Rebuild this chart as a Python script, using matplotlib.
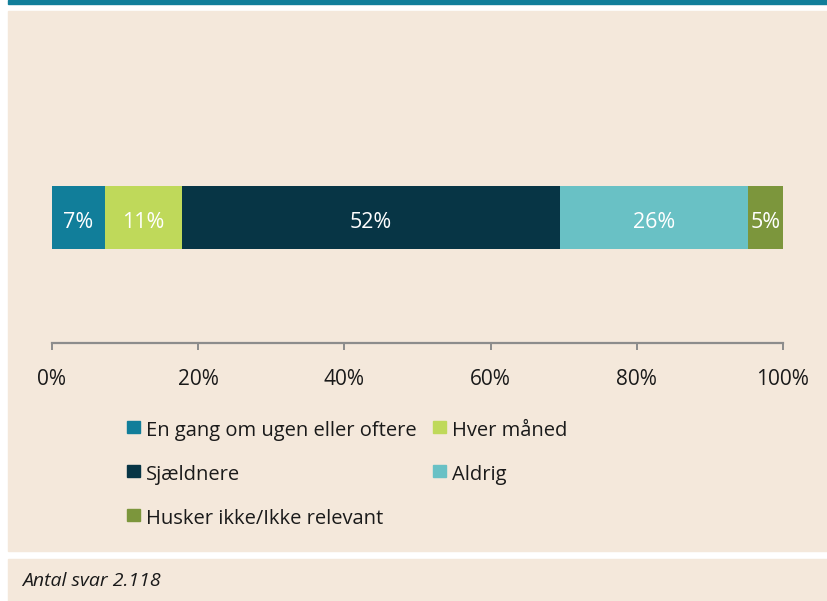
import matplotlib.pyplot as plt
from matplotlib.patches import Rectangle

# Survey answers (share of respondents, %)
categories = ['En gang om ugen eller oftere', 'Hver måned', 'Sjældnere',
              'Aldrig', 'Husker ikke/Ikke relevant']
values = [7.2, 10.6, 51.7, 25.7, 4.8]
colors = ['#117e9a', '#bfd95a', '#073545', '#69c1c5', '#7c963c']
ticks = [0, 20, 40, 60, 80, 100]
footer = 'Antal svar 2.118'

bg = '#f4e8db'
W, H = 827, 601

plt.rcParams['font.family'] = ['Open Sans', 'DejaVu Sans']

fig = plt.figure(figsize=(W / 100, H / 100), dpi=100)
fig.patch.set_facecolor('white')

def px_rect(x0, y0, x1, y1, color):
    # rectangle given in pixel coords (y from top)
    fig.patches.append(Rectangle((x0 / W, 1 - y1 / H), (x1 - x0) / W, (y1 - y0) / H,
                                 transform=fig.transFigure, color=color, zorder=0))

px_rect(8, 0, W, 3.5, '#117e9a')
px_rect(8, 11, W, 550.5, bg)
px_rect(8, 559, W, H, bg)

# bar axes: x from 52 to 783 px, y from 100 to 343 px
ax = fig.add_axes([52 / W, 1 - 343 / H, (783 - 52) / W, (343 - 100) / H])
ax.set_zorder(5)
ax.set_facecolor('none')
ax.set_xlim(0, 100)
ax.set_ylim(0, 1)

left = 0
for v, c in zip(values, colors):
    ax.barh(0.5165, v, left=left, height=0.259, color=c)
    ax.text(left + v / 2, 0.505, f'{round(v)}%', ha='center', va='center_baseline',
            color='white', fontsize=15.5)
    left += v

for s in ['top', 'right', 'left']:
    ax.spines[s].set_visible(False)
ax.spines['bottom'].set_color('#8c8c8c')
ax.spines['bottom'].set_linewidth(1.6)
ax.set_yticks([])
ax.set_xticks(ticks)
ax.set_xticklabels([f'{t}%' for t in ticks])
ax.tick_params(axis='x', direction='out', length=5, width=1.4, color='#8c8c8c',
               labelsize=15, pad=14, labelcolor='#1a1a1a')

# legend, laid out row-wise in two columns
col_x = [127, 433]
row_y = [436, 480, 524]
for i, (cat, c) in enumerate(zip(categories, colors)):
    x = col_x[i % 2]
    y = row_y[i // 2]
    px_rect(x, y - 15, x + 12.5, y - 3, c)
    fig.text((x + 19) / W, 1 - y / H, cat, ha='left', va='baseline',
             fontsize=14.5, color='#1a1a1a')

fig.text(22 / W, 1 - 586 / H, footer, ha='left', va='baseline', fontsize=14,
         style='italic', color='#1a1a1a')

fig.savefig('out.png', dpi=100, facecolor=fig.get_facecolor())
